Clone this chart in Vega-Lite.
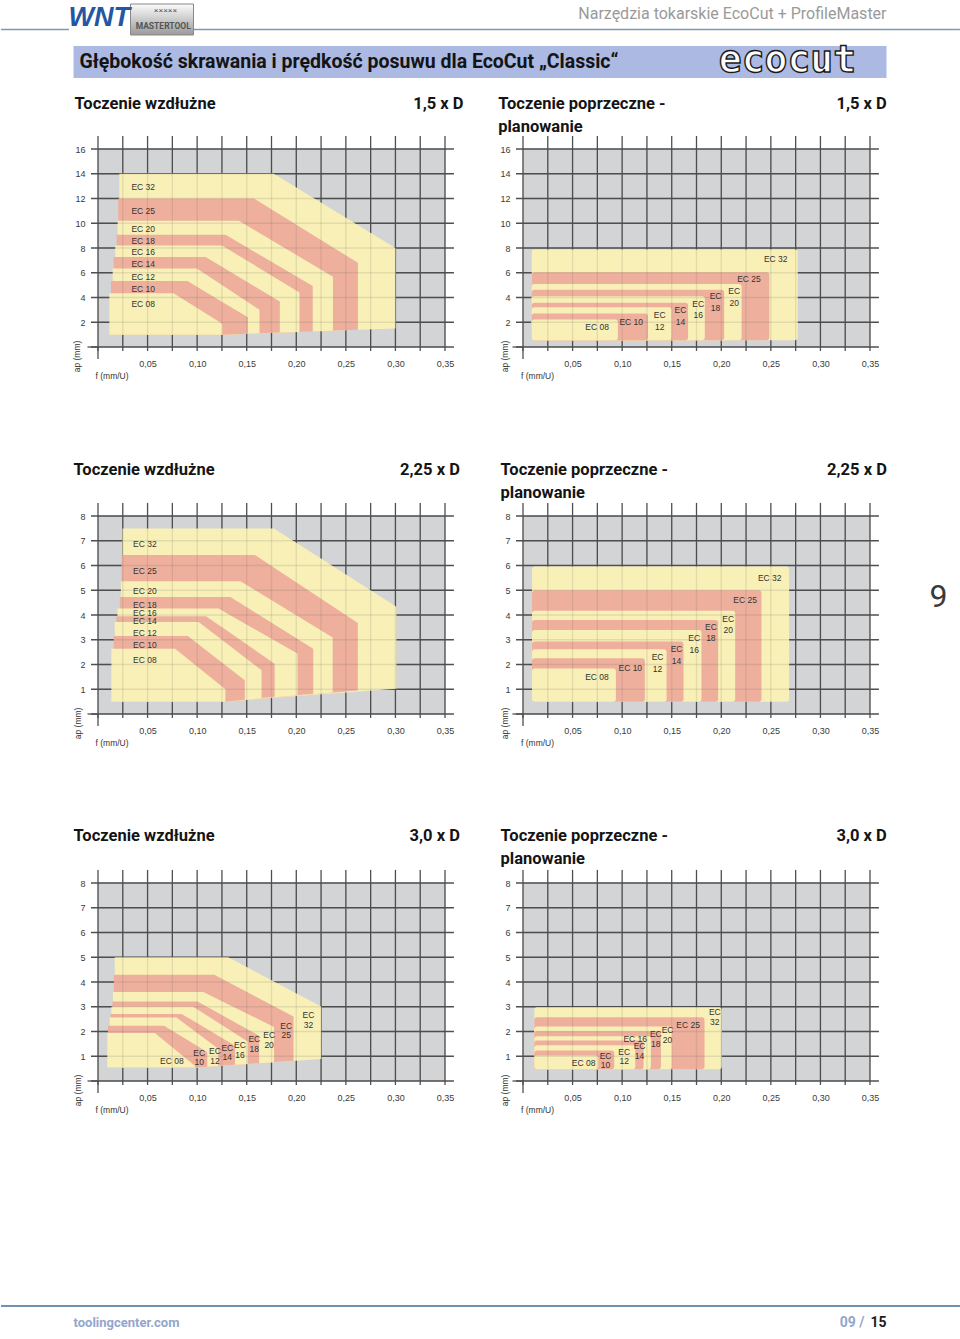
{
"$schema": "https://vega.github.io/schema/vega-lite/v6.json",
"padding": 0,
"background": "#ffffff",
"autosize": {"type": "pad"},
"config": {
 "font": "Liberation Sans",
 "view": {"stroke": null},
 "axisX": {"tickCount": 7, "labelExpr": "datum.value == 0 ? '' : replace(format(datum.value, '.2f'), '.', ',')", "ticks": false, "domain": false, "grid": false, "labelPadding": 12, "labelFontSize": 9, "labelColor": "#3a3a3a", "labelFlush": false, "labelOverlap": false, "labelBound": false},
 "axisY": {"tickCount": 8, "labelExpr": "datum.value == 0 ? '' : datum.label", "ticks": false, "domain": false, "grid": false, "labelPadding": 13, "labelFontSize": 9, "labelColor": "#3a3a3a", "labelOverlap": false, "labelFlush": false}
},
"datasets": {
 "vg": [{"f":0},{"f":0.025},{"f":0.05},{"f":0.075},{"f":0.1},{"f":0.125},{"f":0.15},{"f":0.175},{"f":0.2},{"f":0.225},{"f":0.25},{"f":0.275},{"f":0.3},{"f":0.325},{"f":0.35}],
 "hg16": [{"a":0},{"a":2},{"a":4},{"a":6},{"a":8},{"a":10},{"a":12},{"a":14},{"a":16}],
 "hg8": [{"a":0},{"a":1},{"a":2},{"a":3},{"a":4},{"a":5},{"a":6},{"a":7},{"a":8}],
 "r1L": [
  {"g":"a32","c":"Y","f":0.0215,"top":14,"bot":1.0},{"g":"a32","c":"Y","f":0.125,"top":14,"bot":1.0},{"g":"a32","c":"Y","f":0.1773,"top":14,"bot":1.15},{"g":"a32","c":"Y","f":0.30,"top":8.0,"bot":1.5},
  {"g":"b25","c":"P","f":0.0204,"top":12.0,"bot":1.0},{"g":"b25","c":"P","f":0.125,"top":12.0,"bot":1.0},{"g":"b25","c":"P","f":0.1572,"top":12.0,"bot":1.09},{"g":"b25","c":"P","f":0.2622,"top":6.8,"bot":1.39},
  {"g":"c20","c":"Y","f":0.0198,"top":10.2,"bot":1.0},{"g":"c20","c":"Y","f":0.125,"top":10.2,"bot":1.0},{"g":"c20","c":"Y","f":0.1421,"top":10.2,"bot":1.05},{"g":"c20","c":"Y","f":0.237,"top":5.68,"bot":1.32},
  {"g":"d18","c":"P","f":0.0188,"top":9.07,"bot":1.0},{"g":"d18","c":"P","f":0.125,"top":9.07,"bot":1.0},{"g":"d18","c":"P","f":0.1287,"top":9.07,"bot":1.01},{"g":"d18","c":"P","f":0.2166,"top":4.93,"bot":1.26},
  {"g":"e16","c":"Y","f":0.0174,"top":8.21,"bot":1.0},{"g":"e16","c":"Y","f":0.125,"top":8.21,"bot":1.0},{"g":"e16","c":"Y","f":0.2032,"top":4.4,"bot":1.22},
  {"g":"f14","c":"P","f":0.0158,"top":7.28,"bot":1.0},{"g":"f14","c":"P","f":0.1086,"top":7.28,"bot":1.0},{"g":"f14","c":"P","f":0.125,"top":6.49,"bot":1.0},{"g":"f14","c":"P","f":0.1834,"top":3.68,"bot":1.17},
  {"g":"g12","c":"Y","f":0.0148,"top":6.35,"bot":1.0},{"g":"g12","c":"Y","f":0.0996,"top":6.35,"bot":1.0},{"g":"g12","c":"Y","f":0.125,"top":5.01,"bot":1.0},{"g":"g12","c":"Y","f":0.1629,"top":3.01,"bot":1.11},
  {"g":"h10","c":"P","f":0.0131,"top":5.33,"bot":1.0},{"g":"h10","c":"P","f":0.0902,"top":5.33,"bot":1.0},{"g":"h10","c":"P","f":0.125,"top":3.66,"bot":1.0},{"g":"h10","c":"P","f":0.1512,"top":2.4,"bot":1.07},
  {"g":"i08","c":"Y","f":0.0114,"top":4.35,"bot":1.0},{"g":"i08","c":"Y","f":0.0761,"top":4.35,"bot":1.0},{"g":"i08","c":"Y","f":0.1254,"top":1.87,"bot":1.0}
 ],
 "r2L": [
  {"g":"a32","c":"Y","f":0.0247,"top":7.5,"bot":0.5},{"g":"a32","c":"Y","f":0.1285,"top":7.5,"bot":0.5},{"g":"a32","c":"Y","f":0.1775,"top":7.5,"bot":0.66},{"g":"a32","c":"Y","f":0.301,"top":4.33,"bot":1.02},
  {"g":"b25","c":"P","f":0.0237,"top":6.42,"bot":0.5},{"g":"b25","c":"P","f":0.1285,"top":6.42,"bot":0.5},{"g":"b25","c":"P","f":0.1583,"top":6.42,"bot":0.6},{"g":"b25","c":"P","f":0.2621,"top":3.68,"bot":0.95},
  {"g":"c20","c":"Y","f":0.023,"top":5.36,"bot":0.5},{"g":"c20","c":"Y","f":0.1285,"top":5.36,"bot":0.5},{"g":"c20","c":"Y","f":0.1437,"top":5.36,"bot":0.55},{"g":"c20","c":"Y","f":0.2367,"top":3.09,"bot":0.87},
  {"g":"d18","c":"P","f":0.022,"top":4.73,"bot":0.5},{"g":"d18","c":"P","f":0.1285,"top":4.73,"bot":0.5},{"g":"d18","c":"P","f":0.1336,"top":4.73,"bot":0.52},{"g":"d18","c":"P","f":0.2171,"top":2.64,"bot":0.82},
  {"g":"e16","c":"Y","f":0.0196,"top":4.26,"bot":0.5},{"g":"e16","c":"Y","f":0.1217,"top":4.26,"bot":0.5},{"g":"e16","c":"Y","f":0.1285,"top":4.10,"bot":0.5},{"g":"e16","c":"Y","f":0.2012,"top":2.44,"bot":0.76},
  {"g":"f14","c":"P","f":0.0186,"top":3.95,"bot":0.5},{"g":"f14","c":"P","f":0.1089,"top":3.95,"bot":0.5},{"g":"f14","c":"P","f":0.1285,"top":3.41,"bot":0.5},{"g":"f14","c":"P","f":0.1782,"top":2.03,"bot":0.70},
  {"g":"g12","c":"Y","f":0.0169,"top":3.72,"bot":0.5},{"g":"g12","c":"Y","f":0.1015,"top":3.72,"bot":0.5},{"g":"g12","c":"Y","f":0.1285,"top":2.89,"bot":0.5},{"g":"g12","c":"Y","f":0.165,"top":1.77,"bot":0.64},
  {"g":"h10","c":"P","f":0.0159,"top":3.15,"bot":0.5},{"g":"h10","c":"P","f":0.0906,"top":3.15,"bot":0.5},{"g":"h10","c":"P","f":0.1285,"top":1.97,"bot":0.5},{"g":"h10","c":"P","f":0.1481,"top":1.36,"bot":0.58},
  {"g":"i08","c":"Y","f":0.0135,"top":2.64,"bot":0.5},{"g":"i08","c":"Y","f":0.0778,"top":2.64,"bot":0.5},{"g":"i08","c":"Y","f":0.1285,"top":1.0,"bot":0.5}
 ],
 "r3L": [
  {"g":"a32","c":"Y","f":0.0169,"top":5.0,"bot":0.55},{"g":"a32","c":"Y","f":0.0977,"top":5.0,"bot":0.55},{"g":"a32","c":"Y","f":0.1314,"top":5.0,"bot":0.64},{"g":"a32","c":"Y","f":0.2251,"top":3.01,"bot":0.89},
  {"g":"b25","c":"P","f":0.016,"top":4.29,"bot":0.55},{"g":"b25","c":"P","f":0.0977,"top":4.29,"bot":0.55},{"g":"b25","c":"P","f":0.1173,"top":4.29,"bot":0.6},{"g":"b25","c":"P","f":0.1972,"top":2.61,"bot":0.82},
  {"g":"c20","c":"Y","f":0.015,"top":3.6,"bot":0.55},{"g":"c20","c":"Y","f":0.0977,"top":3.6,"bot":0.55},{"g":"c20","c":"Y","f":0.1062,"top":3.6,"bot":0.57},{"g":"c20","c":"Y","f":0.1776,"top":2.18,"bot":0.76},
  {"g":"d18","c":"P","f":0.0145,"top":3.21,"bot":0.55},{"g":"d18","c":"P","f":0.0977,"top":3.21,"bot":0.55},{"g":"d18","c":"P","f":0.1004,"top":3.21,"bot":0.56},{"g":"d18","c":"P","f":0.1625,"top":1.83,"bot":0.72},
  {"g":"e16","c":"Y","f":0.0135,"top":3.0,"bot":0.55},{"g":"e16","c":"Y","f":0.096,"top":3.0,"bot":0.55},{"g":"e16","c":"Y","f":0.151,"top":1.6,"bot":0.69},
  {"g":"f14","c":"P","f":0.0128,"top":2.71,"bot":0.55},{"g":"f14","c":"P","f":0.0843,"top":2.71,"bot":0.55},{"g":"f14","c":"P","f":0.0977,"top":2.39,"bot":0.55},{"g":"f14","c":"P","f":0.1382,"top":1.42,"bot":0.66},
  {"g":"g12","c":"Y","f":0.0118,"top":2.57,"bot":0.55},{"g":"g12","c":"Y","f":0.0792,"top":2.57,"bot":0.55},{"g":"g12","c":"Y","f":0.0977,"top":2.01,"bot":0.55},{"g":"g12","c":"Y","f":0.1213,"top":1.3,"bot":0.61},
  {"g":"h10","c":"P","f":0.01,"top":2.23,"bot":0.55},{"g":"h10","c":"P","f":0.0667,"top":2.23,"bot":0.55},{"g":"h10","c":"P","f":0.0977,"top":1.47,"bot":0.55},{"g":"h10","c":"P","f":0.1102,"top":1.16,"bot":0.58},
  {"g":"i08","c":"Y","f":0.0094,"top":1.94,"bot":0.55},{"g":"i08","c":"Y","f":0.0573,"top":1.94,"bot":0.55},{"g":"i08","c":"Y","f":0.0977,"top":0.62,"bot":0.55}
 ],
 "r1R": [
  {"g":"a32","c":"Y","x1":0.0088,"x2":0.2771,"y1":0.54,"y2":7.87},
  {"g":"b25","c":"P","x1":0.0088,"x2":0.2485,"y1":0.54,"y2":6.04},
  {"g":"c20","c":"Y","x1":0.0088,"x2":0.2205,"y1":0.54,"y2":5.1},
  {"g":"d18","c":"P","x1":0.0088,"x2":0.2029,"y1":0.54,"y2":4.62},
  {"g":"e16","c":"Y","x1":0.0088,"x2":0.1834,"y1":0.54,"y2":4.1},
  {"g":"f14","c":"P","x1":0.0088,"x2":0.1665,"y1":0.54,"y2":3.57},
  {"g":"g12","c":"Y","x1":0.0088,"x2":0.1497,"y1":0.54,"y2":3.22},
  {"g":"h10","c":"P","x1":0.0088,"x2":0.1261,"y1":0.54,"y2":2.71},
  {"g":"i08","c":"Y","x1":0.0088,"x2":0.0957,"y1":0.54,"y2":2.23}
 ],
 "r2R": [
  {"g":"a32","c":"Y","x1":0.0091,"x2":0.2684,"y1":0.5,"y2":5.96},
  {"g":"b25","c":"P","x1":0.0091,"x2":0.2405,"y1":0.5,"y2":5.0},
  {"g":"c20","c":"Y","x1":0.0091,"x2":0.214,"y1":0.5,"y2":4.17},
  {"g":"d18","c":"P","x1":0.0091,"x2":0.1968,"y1":0.5,"y2":3.8},
  {"g":"e16","c":"Y","x1":0.0091,"x2":0.18,"y1":0.5,"y2":3.39},
  {"g":"f14","c":"P","x1":0.0091,"x2":0.1619,"y1":0.5,"y2":2.93},
  {"g":"g12","c":"Y","x1":0.0091,"x2":0.1448,"y1":0.5,"y2":2.62},
  {"g":"h10","c":"P","x1":0.0091,"x2":0.1229,"y1":0.5,"y2":2.25},
  {"g":"i08","c":"Y","x1":0.0091,"x2":0.0937,"y1":0.5,"y2":1.84}
 ],
 "r3R": [
  {"g":"a32","c":"Y","x1":0.0114,"x2":0.2005,"y1":0.47,"y2":2.98},
  {"g":"b25","c":"P","x1":0.0114,"x2":0.1831,"y1":0.47,"y2":2.58},
  {"g":"c20","c":"Y","x1":0.0114,"x2":0.1502,"y1":0.47,"y2":2.2},
  {"g":"d18","c":"P","x1":0.0114,"x2":0.1391,"y1":0.47,"y2":2.01},
  {"g":"e16","c":"Y","x1":0.0114,"x2":0.129,"y1":0.47,"y2":1.81},
  {"g":"f14","c":"P","x1":0.0114,"x2":0.1216,"y1":0.47,"y2":1.64},
  {"g":"g12","c":"Y","x1":0.0114,"x2":0.1132,"y1":0.47,"y2":1.44},
  {"g":"h10","c":"P","x1":0.0114,"x2":0.092,"y1":0.47,"y2":1.23},
  {"g":"i08","c":"Y","x1":0.0114,"x2":0.0759,"y1":0.47,"y2":1.03}
 ],
 "l1L": [{"t":"EC 32","x":0.0456,"y":12.93},{"t":"EC 25","x":0.0456,"y":11.01},{"t":"EC 20","x":0.0456,"y":9.55},{"t":"EC 18","x":0.0456,"y":8.53},{"t":"EC 16","x":0.0456,"y":7.65},{"t":"EC 14","x":0.0456,"y":6.69},{"t":"EC 12","x":0.0456,"y":5.68},{"t":"EC 10","x":0.0456,"y":4.67},{"t":"EC 08","x":0.0456,"y":3.49}],
 "l2L": [{"t":"EC 32","x":0.0473,"y":6.85},{"t":"EC 25","x":0.0473,"y":5.78},{"t":"EC 20","x":0.0473,"y":4.97},{"t":"EC 18","x":0.0473,"y":4.42},{"t":"EC 16","x":0.0473,"y":4.08},{"t":"EC 14","x":0.0473,"y":3.75},{"t":"EC 12","x":0.0473,"y":3.27},{"t":"EC 10","x":0.0473,"y":2.78},{"t":"EC 08","x":0.0473,"y":2.17}],
 "l1R": [{"t":"EC 32","x":0.2549,"y":7.11},{"t":"EC 25","x":0.2279,"y":5.5},{"t":"EC","x":0.2131,"y":4.51},{"t":"20","x":0.2131,"y":3.57},{"t":"EC","x":0.1942,"y":4.11},{"t":"18","x":0.1942,"y":3.14},{"t":"EC","x":0.1767,"y":3.49},{"t":"16","x":0.1767,"y":2.55},{"t":"EC","x":0.1588,"y":2.95},{"t":"14","x":0.1588,"y":2.01},{"t":"EC","x":0.1379,"y":2.6},{"t":"12","x":0.1379,"y":1.61},{"t":"EC 10","x":0.1092,"y":2.01},{"t":"EC 08","x":0.0748,"y":1.61}],
 "l2R": [{"t":"EC 32","x":0.2489,"y":5.48},{"t":"EC 25","x":0.224,"y":4.6},{"t":"EC","x":0.207,"y":3.84},{"t":"20","x":0.207,"y":3.39},{"t":"EC","x":0.1895,"y":3.5},{"t":"18","x":0.1895,"y":3.06},{"t":"EC","x":0.1727,"y":3.07},{"t":"16","x":0.1727,"y":2.6},{"t":"EC","x":0.1549,"y":2.62},{"t":"14","x":0.1549,"y":2.15},{"t":"EC","x":0.1357,"y":2.29},{"t":"12","x":0.1357,"y":1.82},{"t":"EC 10","x":0.1082,"y":1.86},{"t":"EC 08","x":0.0746,"y":1.48}],
 "l3L": [{"t":"EC 08","x":0.0745,"y":0.82},{"t":"EC","x":0.1021,"y":1.13},{"t":"10","x":0.1021,"y":0.75},{"t":"EC","x":0.118,"y":1.2},{"t":"12","x":0.118,"y":0.79},{"t":"EC","x":0.1304,"y":1.33},{"t":"14","x":0.1304,"y":0.95},{"t":"EC","x":0.1432,"y":1.47},{"t":"16","x":0.1432,"y":1.06},{"t":"EC","x":0.1577,"y":1.69},{"t":"18","x":0.1577,"y":1.29},{"t":"EC","x":0.1726,"y":1.87},{"t":"20","x":0.1726,"y":1.47},{"t":"EC","x":0.1898,"y":2.24},{"t":"25","x":0.1898,"y":1.84},{"t":"EC","x":0.2123,"y":2.67},{"t":"32","x":0.2123,"y":2.27}],
 "l3R": [{"t":"EC","x":0.1935,"y":2.78},{"t":"32","x":0.1935,"y":2.4},{"t":"EC 25","x":0.1666,"y":2.28},{"t":"EC","x":0.1458,"y":2.07},{"t":"20","x":0.1458,"y":1.66},{"t":"EC","x":0.134,"y":1.88},{"t":"18","x":0.134,"y":1.5},{"t":"EC 16","x":0.1132,"y":1.7},{"t":"EC","x":0.1176,"y":1.4},{"t":"14","x":0.1176,"y":0.99},{"t":"EC","x":0.1021,"y":1.17},{"t":"12","x":0.1021,"y":0.79},{"t":"EC","x":0.0833,"y":1.03},{"t":"10","x":0.0833,"y":0.63},{"t":"EC 08","x":0.0611,"y":0.74}]
},
"vconcat": [
 {
  "width": 772, "height": 80,
  "view": {"fill": "#ffffff", "stroke": null},
  "layer": [
   {"data": {"values": [{}]}, "mark": {"type": "rule", "color": "#7b9bb3", "strokeWidth": 1.5}, "encoding": {"x": {"datum": -0.1256, "type": "quantitative", "scale": {"domain": [0, 1], "nice": false, "zero": false}, "axis": null}, "x2": {"datum": -0.0376}, "y": {"datum": 0.369, "type": "quantitative", "scale": {"domain": [0, 1], "nice": false, "zero": false, "reverse": true}, "axis": null}}},
   {"data": {"values": [{}]}, "mark": {"type": "rule", "color": "#7b9bb3", "strokeWidth": 1.5}, "encoding": {"x": {"datum": 0.1237, "type": "quantitative", "scale": {"domain": [0, 1], "nice": false, "zero": false}, "axis": null}, "x2": {"datum": 1.1165}, "y": {"datum": 0.369, "type": "quantitative", "scale": {"domain": [0, 1], "nice": false, "zero": false, "reverse": true}, "axis": null}}},
   {"data": {"values": [{}]}, "mark": {"type": "rect", "stroke": "#888888", "strokeWidth": 1, "fill": {"gradient": "linear", "x1": 0, "y1": 0, "x2": 0, "y2": 1, "stops": [{"offset": 0, "color": "#fbfbfb"}, {"offset": 1, "color": "#9a9a9a"}]}}, "encoding": {"x": {"datum": 0.0421, "type": "quantitative", "scale": {"domain": [0, 1], "nice": false, "zero": false}, "axis": null}, "x2": {"datum": 0.1237}, "y": {"datum": 0.05, "type": "quantitative", "scale": {"domain": [0, 1], "nice": false, "zero": false, "reverse": true}, "axis": null}, "y2": {"datum": 0.4375}}},
   {"data": {"values": [{}]}, "mark": {"type": "text", "text": "WNT", "align": "left", "baseline": "middle", "fontSize": 27, "fontStyle": "italic", "fontWeight": "bold", "font": "Liberation Sans", "color": "#2456a4"}, "encoding": {"x": {"datum": -0.0382, "type": "quantitative", "scale": {"domain": [0, 1], "nice": false, "zero": false}, "axis": null}, "y": {"datum": 0.22, "type": "quantitative", "scale": {"domain": [0, 1], "nice": false, "zero": false, "reverse": true}, "axis": null}}},
   {"data": {"values": [{}]}, "mark": {"type": "text", "text": "×××××", "align": "center", "baseline": "middle", "fontSize": 8, "color": "#444444"}, "encoding": {"x": {"datum": 0.0874, "type": "quantitative", "scale": {"domain": [0, 1], "nice": false, "zero": false}, "axis": null}, "y": {"datum": 0.14, "type": "quantitative", "scale": {"domain": [0, 1], "nice": false, "zero": false, "reverse": true}, "axis": null}}},
   {"data": {"values": [{}]}, "mark": {"type": "text", "text": "MASTERTOOL", "align": "center", "baseline": "middle", "fontSize": 8.5, "fontWeight": "bold", "font": "Roboto", "color": "#555555"}, "encoding": {"x": {"datum": 0.0845, "type": "quantitative", "scale": {"domain": [0, 1], "nice": false, "zero": false}, "axis": null}, "y": {"datum": 0.33, "type": "quantitative", "scale": {"domain": [0, 1], "nice": false, "zero": false, "reverse": true}, "axis": null}}},
   {"data": {"values": [{}]}, "mark": {"type": "text", "text": "Narzędzia tokarskie EcoCut + ProfileMaster", "align": "right", "baseline": "middle", "fontSize": 16, "font": "Roboto", "color": "#9a9a9a"}, "encoding": {"x": {"datum": 1.0214, "type": "quantitative", "scale": {"domain": [0, 1], "nice": false, "zero": false}, "axis": null}, "y": {"datum": 0.175, "type": "quantitative", "scale": {"domain": [0, 1], "nice": false, "zero": false, "reverse": true}, "axis": null}}},
   {"data": {"values": [{}]}, "mark": {"type": "rect", "color": "#abb9e3"}, "encoding": {"x": {"datum": -0.0317, "type": "quantitative", "scale": {"domain": [0, 1], "nice": false, "zero": false}, "axis": null}, "x2": {"datum": 1.0214}, "y": {"datum": 0.575, "type": "quantitative", "scale": {"domain": [0, 1], "nice": false, "zero": false, "reverse": true}, "axis": null}, "y2": {"datum": 0.975}}},
   {"data": {"values": [{}]}, "mark": {"type": "text", "text": "Głębokość skrawania i prędkość posuwu dla EcoCut „Classic“", "align": "left", "baseline": "middle", "fontSize": 19.5, "fontWeight": "bold", "font": "Roboto", "color": "#141414"}, "encoding": {"x": {"datum": -0.0239, "type": "quantitative", "scale": {"domain": [0, 1], "nice": false, "zero": false}, "axis": null}, "y": {"datum": 0.775, "type": "quantitative", "scale": {"domain": [0, 1], "nice": false, "zero": false, "reverse": true}, "axis": null}}},
   {"data": {"values": [{}]}, "mark": {"type": "text", "text": "ecocut", "align": "center", "baseline": "middle", "fontSize": 38, "fontWeight": "bold", "font": "DejaVu Sans Mono", "fill": "#ffffff", "stroke": "#1a1a1a", "strokeWidth": 1.4}, "encoding": {"x": {"datum": 0.893, "type": "quantitative", "scale": {"domain": [0, 1], "nice": false, "zero": false}, "axis": null}, "y": {"datum": 0.76, "type": "quantitative", "scale": {"domain": [0, 1], "nice": false, "zero": false, "reverse": true}, "axis": null}}}
  ]
 },
 {
  "concat": [
   {
    "width": 347, "height": 198,
    "view": {"fill": "#d3d4d6", "stroke": null},
    "layer": [
     {"data": {"name": "vg"}, "mark": {"type": "rule", "color": "#4f4f4f", "strokeWidth": 1.3}, "encoding": {"x": {"field": "f", "type": "quantitative", "scale": {"domain": [0, 0.35], "nice": false, "zero": false}, "title": null}, "y": {"datum": -0.32, "type": "quantitative", "scale": {"domain": [0, 16], "nice": false, "zero": false}, "title": null}, "y2": {"datum": 17.05}}},
     {"data": {"name": "hg16"}, "mark": {"type": "rule", "color": "#4f4f4f", "strokeWidth": 1.3}, "encoding": {"y": {"field": "a", "type": "quantitative", "scale": {"domain": [0, 16], "nice": false, "zero": false}, "title": null}, "x": {"datum": -0.00706, "type": "quantitative", "scale": {"domain": [0, 0.35], "nice": false, "zero": false}, "title": null}, "x2": {"datum": 0.359}}},
     {"data": {"values": [{}]}, "mark": {"type": "rule", "color": "#4f4f4f", "strokeWidth": 1.3}, "encoding": {"x": {"datum": 0, "type": "quantitative", "scale": {"domain": [0, 0.35], "nice": false, "zero": false}, "title": null}, "y": {"datum": -0.97, "type": "quantitative", "scale": {"domain": [0, 16], "nice": false, "zero": false}, "title": null}, "y2": {"datum": 0}}},
     {"data": {"values": [{}]}, "mark": {"type": "rule", "color": "#4f4f4f", "strokeWidth": 1.3}, "encoding": {"y": {"datum": 0, "type": "quantitative", "scale": {"domain": [0, 16], "nice": false, "zero": false}, "title": null}, "x": {"datum": -0.0106, "type": "quantitative", "scale": {"domain": [0, 0.35], "nice": false, "zero": false}, "title": null}, "x2": {"datum": 0}}},
     {"data": {"name": "r1L"}, "mark": {"type": "area", "interpolate": "linear", "opacity": 1}, "encoding": {"x": {"field": "f", "type": "quantitative", "scale": {"domain": [0, 0.35], "nice": false, "zero": false}, "title": null}, "y": {"field": "top", "type": "quantitative", "scale": {"domain": [0, 16], "nice": false, "zero": false}, "stack": null, "title": null}, "y2": {"field": "bot"}, "fill": {"field": "c", "type": "nominal", "scale": {"domain": ["Y", "P"], "range": ["#f8f0b7", "#eeb09d"]}, "legend": null}, "detail": {"field": "g", "type": "nominal"}}},
     {"data": {"name": "vg"}, "mark": {"type": "rule", "color": "#4f4f4f", "strokeWidth": 1.3, "opacity": 0.13}, "encoding": {"x": {"field": "f", "type": "quantitative", "scale": {"domain": [0, 0.35], "nice": false, "zero": false}, "title": null}, "y": {"datum": 0, "type": "quantitative", "scale": {"domain": [0, 16], "nice": false, "zero": false}, "title": null}, "y2": {"datum": 16}}},
     {"data": {"name": "hg16"}, "mark": {"type": "rule", "color": "#4f4f4f", "strokeWidth": 1.3, "opacity": 0.13}, "encoding": {"y": {"field": "a", "type": "quantitative", "scale": {"domain": [0, 16], "nice": false, "zero": false}, "title": null}, "x": {"datum": 0, "type": "quantitative", "scale": {"domain": [0, 0.35], "nice": false, "zero": false}, "title": null}, "x2": {"datum": 0.35}}},
     {"data": {"name": "l1L"}, "mark": {"type": "text", "fontSize": 8.5, "color": "#333333", "align": "center", "baseline": "middle"}, "encoding": {"x": {"field": "x", "type": "quantitative", "scale": {"domain": [0, 0.35], "nice": false, "zero": false}, "title": null}, "y": {"field": "y", "type": "quantitative", "scale": {"domain": [0, 16], "nice": false, "zero": false}, "title": null}, "text": {"field": "t"}}},
     {"data": {"values": [{}]}, "mark": {"type": "text", "text": "Toczenie wzdłużne", "align": "left", "baseline": "middle", "fontSize": 16.5, "fontWeight": "bold", "font": "Roboto", "color": "#141414"}, "encoding": {"x": {"datum": -0.0237, "type": "quantitative", "scale": {"domain": [0, 0.35], "nice": false, "zero": false}, "title": null}, "y": {"datum": 19.64, "type": "quantitative", "scale": {"domain": [0, 16], "nice": false, "zero": false}, "title": null}}},
     {"data": {"values": [{}]}, "mark": {"type": "text", "text": "1,5 x D", "align": "right", "baseline": "middle", "fontSize": 16.5, "fontWeight": "bold", "font": "Roboto", "color": "#141414"}, "encoding": {"x": {"datum": 0.3687, "type": "quantitative", "scale": {"domain": [0, 0.35], "nice": false, "zero": false}, "title": null}, "y": {"datum": 19.64, "type": "quantitative", "scale": {"domain": [0, 16], "nice": false, "zero": false}, "title": null}}},
     {"data": {"values": [{}]}, "mark": {"type": "text", "text": "ap (mm)", "angle": 270, "align": "center", "baseline": "middle", "fontSize": 8.5, "color": "#333333"}, "encoding": {"x": {"datum": -0.0207, "type": "quantitative", "scale": {"domain": [0, 0.35], "nice": false, "zero": false}, "title": null}, "y": {"datum": -0.77, "type": "quantitative", "scale": {"domain": [0, 16], "nice": false, "zero": false}, "title": null}}},
     {"data": {"values": [{}]}, "mark": {"type": "text", "text": "f (mm/U)", "align": "left", "baseline": "middle", "fontSize": 8.5, "color": "#333333"}, "encoding": {"x": {"datum": -0.0025, "type": "quantitative", "scale": {"domain": [0, 0.35], "nice": false, "zero": false}, "title": null}, "y": {"datum": -2.38, "type": "quantitative", "scale": {"domain": [0, 16], "nice": false, "zero": false}, "title": null}}}
    ]
   },
   {
    "width": 347, "height": 198,
    "view": {"fill": "#d3d4d6", "stroke": null},
    "layer": [
     {"data": {"name": "vg"}, "mark": {"type": "rule", "color": "#4f4f4f", "strokeWidth": 1.3}, "encoding": {"x": {"field": "f", "type": "quantitative", "scale": {"domain": [0, 0.35], "nice": false, "zero": false}, "title": null}, "y": {"datum": -0.32, "type": "quantitative", "scale": {"domain": [0, 16], "nice": false, "zero": false}, "title": null}, "y2": {"datum": 17.05}}},
     {"data": {"name": "hg16"}, "mark": {"type": "rule", "color": "#4f4f4f", "strokeWidth": 1.3}, "encoding": {"y": {"field": "a", "type": "quantitative", "scale": {"domain": [0, 16], "nice": false, "zero": false}, "title": null}, "x": {"datum": -0.00706, "type": "quantitative", "scale": {"domain": [0, 0.35], "nice": false, "zero": false}, "title": null}, "x2": {"datum": 0.359}}},
     {"data": {"values": [{}]}, "mark": {"type": "rule", "color": "#4f4f4f", "strokeWidth": 1.3}, "encoding": {"x": {"datum": 0, "type": "quantitative", "scale": {"domain": [0, 0.35], "nice": false, "zero": false}, "title": null}, "y": {"datum": -0.97, "type": "quantitative", "scale": {"domain": [0, 16], "nice": false, "zero": false}, "title": null}, "y2": {"datum": 0}}},
     {"data": {"values": [{}]}, "mark": {"type": "rule", "color": "#4f4f4f", "strokeWidth": 1.3}, "encoding": {"y": {"datum": 0, "type": "quantitative", "scale": {"domain": [0, 16], "nice": false, "zero": false}, "title": null}, "x": {"datum": -0.0106, "type": "quantitative", "scale": {"domain": [0, 0.35], "nice": false, "zero": false}, "title": null}, "x2": {"datum": 0}}},
     {"data": {"name": "r1R"}, "mark": {"type": "rect", "cornerRadius": 2.5, "opacity": 1}, "encoding": {"x": {"field": "x1", "type": "quantitative", "scale": {"domain": [0, 0.35], "nice": false, "zero": false}, "title": null}, "x2": {"field": "x2"}, "y": {"field": "y2", "type": "quantitative", "scale": {"domain": [0, 16], "nice": false, "zero": false}, "title": null}, "y2": {"field": "y1"}, "fill": {"field": "c", "type": "nominal", "scale": {"domain": ["Y", "P"], "range": ["#f8f0b7", "#eeb09d"]}, "legend": null}}},
     {"data": {"name": "vg"}, "mark": {"type": "rule", "color": "#4f4f4f", "strokeWidth": 1.3, "opacity": 0.13}, "encoding": {"x": {"field": "f", "type": "quantitative", "scale": {"domain": [0, 0.35], "nice": false, "zero": false}, "title": null}, "y": {"datum": 0, "type": "quantitative", "scale": {"domain": [0, 16], "nice": false, "zero": false}, "title": null}, "y2": {"datum": 16}}},
     {"data": {"name": "hg16"}, "mark": {"type": "rule", "color": "#4f4f4f", "strokeWidth": 1.3, "opacity": 0.13}, "encoding": {"y": {"field": "a", "type": "quantitative", "scale": {"domain": [0, 16], "nice": false, "zero": false}, "title": null}, "x": {"datum": 0, "type": "quantitative", "scale": {"domain": [0, 0.35], "nice": false, "zero": false}, "title": null}, "x2": {"datum": 0.35}}},
     {"data": {"name": "l1R"}, "mark": {"type": "text", "fontSize": 8.5, "color": "#333333", "align": "center", "baseline": "middle"}, "encoding": {"x": {"field": "x", "type": "quantitative", "scale": {"domain": [0, 0.35], "nice": false, "zero": false}, "title": null}, "y": {"field": "y", "type": "quantitative", "scale": {"domain": [0, 16], "nice": false, "zero": false}, "title": null}, "text": {"field": "t"}}},
     {"data": {"values": [{}]}, "mark": {"type": "text", "text": "Toczenie poprzeczne -", "align": "left", "baseline": "middle", "fontSize": 16.5, "fontWeight": "bold", "font": "Roboto", "color": "#141414"}, "encoding": {"x": {"datum": -0.025, "type": "quantitative", "scale": {"domain": [0, 0.35], "nice": false, "zero": false}, "title": null}, "y": {"datum": 19.64, "type": "quantitative", "scale": {"domain": [0, 16], "nice": false, "zero": false}, "title": null}}},
     {"data": {"values": [{}]}, "mark": {"type": "text", "text": "planowanie", "align": "left", "baseline": "middle", "fontSize": 16.5, "fontWeight": "bold", "font": "Roboto", "color": "#141414"}, "encoding": {"x": {"datum": -0.025, "type": "quantitative", "scale": {"domain": [0, 0.35], "nice": false, "zero": false}, "title": null}, "y": {"datum": 17.78, "type": "quantitative", "scale": {"domain": [0, 16], "nice": false, "zero": false}, "title": null}}},
     {"data": {"values": [{}]}, "mark": {"type": "text", "text": "1,5 x D", "align": "right", "baseline": "middle", "fontSize": 16.5, "fontWeight": "bold", "font": "Roboto", "color": "#141414"}, "encoding": {"x": {"datum": 0.367, "type": "quantitative", "scale": {"domain": [0, 0.35], "nice": false, "zero": false}, "title": null}, "y": {"datum": 19.64, "type": "quantitative", "scale": {"domain": [0, 16], "nice": false, "zero": false}, "title": null}}},
     {"data": {"values": [{}]}, "mark": {"type": "text", "text": "ap (mm)", "angle": 270, "align": "center", "baseline": "middle", "fontSize": 8.5, "color": "#333333"}, "encoding": {"x": {"datum": -0.018, "type": "quantitative", "scale": {"domain": [0, 0.35], "nice": false, "zero": false}, "title": null}, "y": {"datum": -0.77, "type": "quantitative", "scale": {"domain": [0, 16], "nice": false, "zero": false}, "title": null}}},
     {"data": {"values": [{}]}, "mark": {"type": "text", "text": "f (mm/U)", "align": "left", "baseline": "middle", "fontSize": 8.5, "color": "#333333"}, "encoding": {"x": {"datum": -0.002, "type": "quantitative", "scale": {"domain": [0, 0.35], "nice": false, "zero": false}, "title": null}, "y": {"datum": -2.38, "type": "quantitative", "scale": {"domain": [0, 16], "nice": false, "zero": false}, "title": null}}}
    ]
   },
   {
    "width": 347, "height": 198,
    "view": {"fill": "#d3d4d6", "stroke": null},
    "layer": [
     {"data": {"name": "vg"}, "mark": {"type": "rule", "color": "#4f4f4f", "strokeWidth": 1.3}, "encoding": {"x": {"field": "f", "type": "quantitative", "scale": {"domain": [0, 0.35], "nice": false, "zero": false}, "title": null}, "y": {"datum": -0.16, "type": "quantitative", "scale": {"domain": [0, 8], "nice": false, "zero": false}, "title": null}, "y2": {"datum": 8.53}}},
     {"data": {"name": "hg8"}, "mark": {"type": "rule", "color": "#4f4f4f", "strokeWidth": 1.3}, "encoding": {"y": {"field": "a", "type": "quantitative", "scale": {"domain": [0, 8], "nice": false, "zero": false}, "title": null}, "x": {"datum": -0.00706, "type": "quantitative", "scale": {"domain": [0, 0.35], "nice": false, "zero": false}, "title": null}, "x2": {"datum": 0.359}}},
     {"data": {"values": [{}]}, "mark": {"type": "rule", "color": "#4f4f4f", "strokeWidth": 1.3}, "encoding": {"x": {"datum": 0, "type": "quantitative", "scale": {"domain": [0, 0.35], "nice": false, "zero": false}, "title": null}, "y": {"datum": -0.485, "type": "quantitative", "scale": {"domain": [0, 8], "nice": false, "zero": false}, "title": null}, "y2": {"datum": 0}}},
     {"data": {"values": [{}]}, "mark": {"type": "rule", "color": "#4f4f4f", "strokeWidth": 1.3}, "encoding": {"y": {"datum": 0, "type": "quantitative", "scale": {"domain": [0, 8], "nice": false, "zero": false}, "title": null}, "x": {"datum": -0.0106, "type": "quantitative", "scale": {"domain": [0, 0.35], "nice": false, "zero": false}, "title": null}, "x2": {"datum": 0}}},
     {"data": {"name": "r2L"}, "mark": {"type": "area", "interpolate": "linear", "opacity": 1}, "encoding": {"x": {"field": "f", "type": "quantitative", "scale": {"domain": [0, 0.35], "nice": false, "zero": false}, "title": null}, "y": {"field": "top", "type": "quantitative", "scale": {"domain": [0, 8], "nice": false, "zero": false}, "stack": null, "title": null}, "y2": {"field": "bot"}, "fill": {"field": "c", "type": "nominal", "scale": {"domain": ["Y", "P"], "range": ["#f8f0b7", "#eeb09d"]}, "legend": null}, "detail": {"field": "g", "type": "nominal"}}},
     {"data": {"name": "vg"}, "mark": {"type": "rule", "color": "#4f4f4f", "strokeWidth": 1.3, "opacity": 0.13}, "encoding": {"x": {"field": "f", "type": "quantitative", "scale": {"domain": [0, 0.35], "nice": false, "zero": false}, "title": null}, "y": {"datum": 0, "type": "quantitative", "scale": {"domain": [0, 8], "nice": false, "zero": false}, "title": null}, "y2": {"datum": 8}}},
     {"data": {"name": "hg8"}, "mark": {"type": "rule", "color": "#4f4f4f", "strokeWidth": 1.3, "opacity": 0.13}, "encoding": {"y": {"field": "a", "type": "quantitative", "scale": {"domain": [0, 8], "nice": false, "zero": false}, "title": null}, "x": {"datum": 0, "type": "quantitative", "scale": {"domain": [0, 0.35], "nice": false, "zero": false}, "title": null}, "x2": {"datum": 0.35}}},
     {"data": {"name": "l2L"}, "mark": {"type": "text", "fontSize": 8.5, "color": "#333333", "align": "center", "baseline": "middle"}, "encoding": {"x": {"field": "x", "type": "quantitative", "scale": {"domain": [0, 0.35], "nice": false, "zero": false}, "title": null}, "y": {"field": "y", "type": "quantitative", "scale": {"domain": [0, 8], "nice": false, "zero": false}, "title": null}, "text": {"field": "t"}}},
     {"data": {"values": [{}]}, "mark": {"type": "text", "text": "Toczenie wzdłużne", "align": "left", "baseline": "middle", "fontSize": 16.5, "fontWeight": "bold", "font": "Roboto", "color": "#141414"}, "encoding": {"x": {"datum": -0.0247, "type": "quantitative", "scale": {"domain": [0, 0.35], "nice": false, "zero": false}, "title": null}, "y": {"datum": 9.84, "type": "quantitative", "scale": {"domain": [0, 8], "nice": false, "zero": false}, "title": null}}},
     {"data": {"values": [{}]}, "mark": {"type": "text", "text": "2,25 x D", "align": "right", "baseline": "middle", "fontSize": 16.5, "fontWeight": "bold", "font": "Roboto", "color": "#141414"}, "encoding": {"x": {"datum": 0.365, "type": "quantitative", "scale": {"domain": [0, 0.35], "nice": false, "zero": false}, "title": null}, "y": {"datum": 9.84, "type": "quantitative", "scale": {"domain": [0, 8], "nice": false, "zero": false}, "title": null}}},
     {"data": {"values": [{}]}, "mark": {"type": "text", "text": "ap (mm)", "angle": 270, "align": "center", "baseline": "middle", "fontSize": 8.5, "color": "#333333"}, "encoding": {"x": {"datum": -0.0197, "type": "quantitative", "scale": {"domain": [0, 0.35], "nice": false, "zero": false}, "title": null}, "y": {"datum": -0.38, "type": "quantitative", "scale": {"domain": [0, 8], "nice": false, "zero": false}, "title": null}}},
     {"data": {"values": [{}]}, "mark": {"type": "text", "text": "f (mm/U)", "align": "left", "baseline": "middle", "fontSize": 8.5, "color": "#333333"}, "encoding": {"x": {"datum": -0.0025, "type": "quantitative", "scale": {"domain": [0, 0.35], "nice": false, "zero": false}, "title": null}, "y": {"datum": -1.19, "type": "quantitative", "scale": {"domain": [0, 8], "nice": false, "zero": false}, "title": null}}}
    ]
   },
   {
    "width": 347, "height": 198,
    "view": {"fill": "#d3d4d6", "stroke": null},
    "layer": [
     {"data": {"name": "vg"}, "mark": {"type": "rule", "color": "#4f4f4f", "strokeWidth": 1.3}, "encoding": {"x": {"field": "f", "type": "quantitative", "scale": {"domain": [0, 0.35], "nice": false, "zero": false}, "title": null}, "y": {"datum": -0.16, "type": "quantitative", "scale": {"domain": [0, 8], "nice": false, "zero": false}, "title": null}, "y2": {"datum": 8.53}}},
     {"data": {"name": "hg8"}, "mark": {"type": "rule", "color": "#4f4f4f", "strokeWidth": 1.3}, "encoding": {"y": {"field": "a", "type": "quantitative", "scale": {"domain": [0, 8], "nice": false, "zero": false}, "title": null}, "x": {"datum": -0.00706, "type": "quantitative", "scale": {"domain": [0, 0.35], "nice": false, "zero": false}, "title": null}, "x2": {"datum": 0.359}}},
     {"data": {"values": [{}]}, "mark": {"type": "rule", "color": "#4f4f4f", "strokeWidth": 1.3}, "encoding": {"x": {"datum": 0, "type": "quantitative", "scale": {"domain": [0, 0.35], "nice": false, "zero": false}, "title": null}, "y": {"datum": -0.485, "type": "quantitative", "scale": {"domain": [0, 8], "nice": false, "zero": false}, "title": null}, "y2": {"datum": 0}}},
     {"data": {"values": [{}]}, "mark": {"type": "rule", "color": "#4f4f4f", "strokeWidth": 1.3}, "encoding": {"y": {"datum": 0, "type": "quantitative", "scale": {"domain": [0, 8], "nice": false, "zero": false}, "title": null}, "x": {"datum": -0.0106, "type": "quantitative", "scale": {"domain": [0, 0.35], "nice": false, "zero": false}, "title": null}, "x2": {"datum": 0}}},
     {"data": {"name": "r2R"}, "mark": {"type": "rect", "cornerRadius": 2.5, "opacity": 1}, "encoding": {"x": {"field": "x1", "type": "quantitative", "scale": {"domain": [0, 0.35], "nice": false, "zero": false}, "title": null}, "x2": {"field": "x2"}, "y": {"field": "y2", "type": "quantitative", "scale": {"domain": [0, 8], "nice": false, "zero": false}, "title": null}, "y2": {"field": "y1"}, "fill": {"field": "c", "type": "nominal", "scale": {"domain": ["Y", "P"], "range": ["#f8f0b7", "#eeb09d"]}, "legend": null}}},
     {"data": {"name": "vg"}, "mark": {"type": "rule", "color": "#4f4f4f", "strokeWidth": 1.3, "opacity": 0.13}, "encoding": {"x": {"field": "f", "type": "quantitative", "scale": {"domain": [0, 0.35], "nice": false, "zero": false}, "title": null}, "y": {"datum": 0, "type": "quantitative", "scale": {"domain": [0, 8], "nice": false, "zero": false}, "title": null}, "y2": {"datum": 8}}},
     {"data": {"name": "hg8"}, "mark": {"type": "rule", "color": "#4f4f4f", "strokeWidth": 1.3, "opacity": 0.13}, "encoding": {"y": {"field": "a", "type": "quantitative", "scale": {"domain": [0, 8], "nice": false, "zero": false}, "title": null}, "x": {"datum": 0, "type": "quantitative", "scale": {"domain": [0, 0.35], "nice": false, "zero": false}, "title": null}, "x2": {"datum": 0.35}}},
     {"data": {"name": "l2R"}, "mark": {"type": "text", "fontSize": 8.5, "color": "#333333", "align": "center", "baseline": "middle"}, "encoding": {"x": {"field": "x", "type": "quantitative", "scale": {"domain": [0, 0.35], "nice": false, "zero": false}, "title": null}, "y": {"field": "y", "type": "quantitative", "scale": {"domain": [0, 8], "nice": false, "zero": false}, "title": null}, "text": {"field": "t"}}},
     {"data": {"values": [{}]}, "mark": {"type": "text", "text": "Toczenie poprzeczne -", "align": "left", "baseline": "middle", "fontSize": 16.5, "fontWeight": "bold", "font": "Roboto", "color": "#141414"}, "encoding": {"x": {"datum": -0.0227, "type": "quantitative", "scale": {"domain": [0, 0.35], "nice": false, "zero": false}, "title": null}, "y": {"datum": 9.84, "type": "quantitative", "scale": {"domain": [0, 8], "nice": false, "zero": false}, "title": null}}},
     {"data": {"values": [{}]}, "mark": {"type": "text", "text": "planowanie", "align": "left", "baseline": "middle", "fontSize": 16.5, "fontWeight": "bold", "font": "Roboto", "color": "#141414"}, "encoding": {"x": {"datum": -0.0227, "type": "quantitative", "scale": {"domain": [0, 0.35], "nice": false, "zero": false}, "title": null}, "y": {"datum": 8.91, "type": "quantitative", "scale": {"domain": [0, 8], "nice": false, "zero": false}, "title": null}}},
     {"data": {"values": [{}]}, "mark": {"type": "text", "text": "2,25 x D", "align": "right", "baseline": "middle", "fontSize": 16.5, "fontWeight": "bold", "font": "Roboto", "color": "#141414"}, "encoding": {"x": {"datum": 0.367, "type": "quantitative", "scale": {"domain": [0, 0.35], "nice": false, "zero": false}, "title": null}, "y": {"datum": 9.84, "type": "quantitative", "scale": {"domain": [0, 8], "nice": false, "zero": false}, "title": null}}},
     {"data": {"values": [{}]}, "mark": {"type": "text", "text": "9", "align": "center", "baseline": "middle", "fontSize": 32, "font": "Roboto", "color": "#3a3a3a"}, "encoding": {"x": {"datum": 0.419, "type": "quantitative", "scale": {"domain": [0, 0.35], "nice": false, "zero": false}, "title": null}, "y": {"datum": 4.73, "type": "quantitative", "scale": {"domain": [0, 8], "nice": false, "zero": false}, "title": null}}},
     {"data": {"values": [{}]}, "mark": {"type": "text", "text": "ap (mm)", "angle": 270, "align": "center", "baseline": "middle", "fontSize": 8.5, "color": "#333333"}, "encoding": {"x": {"datum": -0.018, "type": "quantitative", "scale": {"domain": [0, 0.35], "nice": false, "zero": false}, "title": null}, "y": {"datum": -0.38, "type": "quantitative", "scale": {"domain": [0, 8], "nice": false, "zero": false}, "title": null}}},
     {"data": {"values": [{}]}, "mark": {"type": "text", "text": "f (mm/U)", "align": "left", "baseline": "middle", "fontSize": 8.5, "color": "#333333"}, "encoding": {"x": {"datum": -0.002, "type": "quantitative", "scale": {"domain": [0, 0.35], "nice": false, "zero": false}, "title": null}, "y": {"datum": -1.19, "type": "quantitative", "scale": {"domain": [0, 8], "nice": false, "zero": false}, "title": null}}}
    ]
   },
   {
    "width": 347, "height": 198,
    "view": {"fill": "#d3d4d6", "stroke": null},
    "layer": [
     {"data": {"name": "vg"}, "mark": {"type": "rule", "color": "#4f4f4f", "strokeWidth": 1.3}, "encoding": {"x": {"field": "f", "type": "quantitative", "scale": {"domain": [0, 0.35], "nice": false, "zero": false}, "title": null}, "y": {"datum": -0.16, "type": "quantitative", "scale": {"domain": [0, 8], "nice": false, "zero": false}, "title": null}, "y2": {"datum": 8.53}}},
     {"data": {"name": "hg8"}, "mark": {"type": "rule", "color": "#4f4f4f", "strokeWidth": 1.3}, "encoding": {"y": {"field": "a", "type": "quantitative", "scale": {"domain": [0, 8], "nice": false, "zero": false}, "title": null}, "x": {"datum": -0.00706, "type": "quantitative", "scale": {"domain": [0, 0.35], "nice": false, "zero": false}, "title": null}, "x2": {"datum": 0.359}}},
     {"data": {"values": [{}]}, "mark": {"type": "rule", "color": "#4f4f4f", "strokeWidth": 1.3}, "encoding": {"x": {"datum": 0, "type": "quantitative", "scale": {"domain": [0, 0.35], "nice": false, "zero": false}, "title": null}, "y": {"datum": -0.485, "type": "quantitative", "scale": {"domain": [0, 8], "nice": false, "zero": false}, "title": null}, "y2": {"datum": 0}}},
     {"data": {"values": [{}]}, "mark": {"type": "rule", "color": "#4f4f4f", "strokeWidth": 1.3}, "encoding": {"y": {"datum": 0, "type": "quantitative", "scale": {"domain": [0, 8], "nice": false, "zero": false}, "title": null}, "x": {"datum": -0.0106, "type": "quantitative", "scale": {"domain": [0, 0.35], "nice": false, "zero": false}, "title": null}, "x2": {"datum": 0}}},
     {"data": {"name": "r3L"}, "mark": {"type": "area", "interpolate": "linear", "opacity": 1}, "encoding": {"x": {"field": "f", "type": "quantitative", "scale": {"domain": [0, 0.35], "nice": false, "zero": false}, "title": null}, "y": {"field": "top", "type": "quantitative", "scale": {"domain": [0, 8], "nice": false, "zero": false}, "stack": null, "title": null}, "y2": {"field": "bot"}, "fill": {"field": "c", "type": "nominal", "scale": {"domain": ["Y", "P"], "range": ["#f8f0b7", "#eeb09d"]}, "legend": null}, "detail": {"field": "g", "type": "nominal"}}},
     {"data": {"name": "vg"}, "mark": {"type": "rule", "color": "#4f4f4f", "strokeWidth": 1.3, "opacity": 0.13}, "encoding": {"x": {"field": "f", "type": "quantitative", "scale": {"domain": [0, 0.35], "nice": false, "zero": false}, "title": null}, "y": {"datum": 0, "type": "quantitative", "scale": {"domain": [0, 8], "nice": false, "zero": false}, "title": null}, "y2": {"datum": 8}}},
     {"data": {"name": "hg8"}, "mark": {"type": "rule", "color": "#4f4f4f", "strokeWidth": 1.3, "opacity": 0.13}, "encoding": {"y": {"field": "a", "type": "quantitative", "scale": {"domain": [0, 8], "nice": false, "zero": false}, "title": null}, "x": {"datum": 0, "type": "quantitative", "scale": {"domain": [0, 0.35], "nice": false, "zero": false}, "title": null}, "x2": {"datum": 0.35}}},
     {"data": {"name": "l3L"}, "mark": {"type": "text", "fontSize": 8.5, "color": "#333333", "align": "center", "baseline": "middle"}, "encoding": {"x": {"field": "x", "type": "quantitative", "scale": {"domain": [0, 0.35], "nice": false, "zero": false}, "title": null}, "y": {"field": "y", "type": "quantitative", "scale": {"domain": [0, 8], "nice": false, "zero": false}, "title": null}, "text": {"field": "t"}}},
     {"data": {"values": [{}]}, "mark": {"type": "text", "text": "Toczenie wzdłużne", "align": "left", "baseline": "middle", "fontSize": 16.5, "fontWeight": "bold", "font": "Roboto", "color": "#141414"}, "encoding": {"x": {"datum": -0.0247, "type": "quantitative", "scale": {"domain": [0, 0.35], "nice": false, "zero": false}, "title": null}, "y": {"datum": 9.88, "type": "quantitative", "scale": {"domain": [0, 8], "nice": false, "zero": false}, "title": null}}},
     {"data": {"values": [{}]}, "mark": {"type": "text", "text": "3,0 x D", "align": "right", "baseline": "middle", "fontSize": 16.5, "fontWeight": "bold", "font": "Roboto", "color": "#141414"}, "encoding": {"x": {"datum": 0.365, "type": "quantitative", "scale": {"domain": [0, 0.35], "nice": false, "zero": false}, "title": null}, "y": {"datum": 9.88, "type": "quantitative", "scale": {"domain": [0, 8], "nice": false, "zero": false}, "title": null}}},
     {"data": {"values": [{}]}, "mark": {"type": "text", "text": "ap (mm)", "angle": 270, "align": "center", "baseline": "middle", "fontSize": 8.5, "color": "#333333"}, "encoding": {"x": {"datum": -0.0197, "type": "quantitative", "scale": {"domain": [0, 0.35], "nice": false, "zero": false}, "title": null}, "y": {"datum": -0.38, "type": "quantitative", "scale": {"domain": [0, 8], "nice": false, "zero": false}, "title": null}}},
     {"data": {"values": [{}]}, "mark": {"type": "text", "text": "f (mm/U)", "align": "left", "baseline": "middle", "fontSize": 8.5, "color": "#333333"}, "encoding": {"x": {"datum": -0.0025, "type": "quantitative", "scale": {"domain": [0, 0.35], "nice": false, "zero": false}, "title": null}, "y": {"datum": -1.19, "type": "quantitative", "scale": {"domain": [0, 8], "nice": false, "zero": false}, "title": null}}}
    ]
   },
   {
    "width": 347, "height": 198,
    "view": {"fill": "#d3d4d6", "stroke": null},
    "layer": [
     {"data": {"name": "vg"}, "mark": {"type": "rule", "color": "#4f4f4f", "strokeWidth": 1.3}, "encoding": {"x": {"field": "f", "type": "quantitative", "scale": {"domain": [0, 0.35], "nice": false, "zero": false}, "title": null}, "y": {"datum": -0.16, "type": "quantitative", "scale": {"domain": [0, 8], "nice": false, "zero": false}, "title": null}, "y2": {"datum": 8.53}}},
     {"data": {"name": "hg8"}, "mark": {"type": "rule", "color": "#4f4f4f", "strokeWidth": 1.3}, "encoding": {"y": {"field": "a", "type": "quantitative", "scale": {"domain": [0, 8], "nice": false, "zero": false}, "title": null}, "x": {"datum": -0.00706, "type": "quantitative", "scale": {"domain": [0, 0.35], "nice": false, "zero": false}, "title": null}, "x2": {"datum": 0.359}}},
     {"data": {"values": [{}]}, "mark": {"type": "rule", "color": "#4f4f4f", "strokeWidth": 1.3}, "encoding": {"x": {"datum": 0, "type": "quantitative", "scale": {"domain": [0, 0.35], "nice": false, "zero": false}, "title": null}, "y": {"datum": -0.485, "type": "quantitative", "scale": {"domain": [0, 8], "nice": false, "zero": false}, "title": null}, "y2": {"datum": 0}}},
     {"data": {"values": [{}]}, "mark": {"type": "rule", "color": "#4f4f4f", "strokeWidth": 1.3}, "encoding": {"y": {"datum": 0, "type": "quantitative", "scale": {"domain": [0, 8], "nice": false, "zero": false}, "title": null}, "x": {"datum": -0.0106, "type": "quantitative", "scale": {"domain": [0, 0.35], "nice": false, "zero": false}, "title": null}, "x2": {"datum": 0}}},
     {"data": {"name": "r3R"}, "mark": {"type": "rect", "cornerRadius": 2.5, "opacity": 1}, "encoding": {"x": {"field": "x1", "type": "quantitative", "scale": {"domain": [0, 0.35], "nice": false, "zero": false}, "title": null}, "x2": {"field": "x2"}, "y": {"field": "y2", "type": "quantitative", "scale": {"domain": [0, 8], "nice": false, "zero": false}, "title": null}, "y2": {"field": "y1"}, "fill": {"field": "c", "type": "nominal", "scale": {"domain": ["Y", "P"], "range": ["#f8f0b7", "#eeb09d"]}, "legend": null}}},
     {"data": {"name": "vg"}, "mark": {"type": "rule", "color": "#4f4f4f", "strokeWidth": 1.3, "opacity": 0.13}, "encoding": {"x": {"field": "f", "type": "quantitative", "scale": {"domain": [0, 0.35], "nice": false, "zero": false}, "title": null}, "y": {"datum": 0, "type": "quantitative", "scale": {"domain": [0, 8], "nice": false, "zero": false}, "title": null}, "y2": {"datum": 8}}},
     {"data": {"name": "hg8"}, "mark": {"type": "rule", "color": "#4f4f4f", "strokeWidth": 1.3, "opacity": 0.13}, "encoding": {"y": {"field": "a", "type": "quantitative", "scale": {"domain": [0, 8], "nice": false, "zero": false}, "title": null}, "x": {"datum": 0, "type": "quantitative", "scale": {"domain": [0, 0.35], "nice": false, "zero": false}, "title": null}, "x2": {"datum": 0.35}}},
     {"data": {"name": "l3R"}, "mark": {"type": "text", "fontSize": 8.5, "color": "#333333", "align": "center", "baseline": "middle"}, "encoding": {"x": {"field": "x", "type": "quantitative", "scale": {"domain": [0, 0.35], "nice": false, "zero": false}, "title": null}, "y": {"field": "y", "type": "quantitative", "scale": {"domain": [0, 8], "nice": false, "zero": false}, "title": null}, "text": {"field": "t"}}},
     {"data": {"values": [{}]}, "mark": {"type": "text", "text": "Toczenie poprzeczne -", "align": "left", "baseline": "middle", "fontSize": 16.5, "fontWeight": "bold", "font": "Roboto", "color": "#141414"}, "encoding": {"x": {"datum": -0.0227, "type": "quantitative", "scale": {"domain": [0, 0.35], "nice": false, "zero": false}, "title": null}, "y": {"datum": 9.88, "type": "quantitative", "scale": {"domain": [0, 8], "nice": false, "zero": false}, "title": null}}},
     {"data": {"values": [{}]}, "mark": {"type": "text", "text": "planowanie", "align": "left", "baseline": "middle", "fontSize": 16.5, "fontWeight": "bold", "font": "Roboto", "color": "#141414"}, "encoding": {"x": {"datum": -0.0227, "type": "quantitative", "scale": {"domain": [0, 0.35], "nice": false, "zero": false}, "title": null}, "y": {"datum": 8.95, "type": "quantitative", "scale": {"domain": [0, 8], "nice": false, "zero": false}, "title": null}}},
     {"data": {"values": [{}]}, "mark": {"type": "text", "text": "3,0 x D", "align": "right", "baseline": "middle", "fontSize": 16.5, "fontWeight": "bold", "font": "Roboto", "color": "#141414"}, "encoding": {"x": {"datum": 0.367, "type": "quantitative", "scale": {"domain": [0, 0.35], "nice": false, "zero": false}, "title": null}, "y": {"datum": 9.88, "type": "quantitative", "scale": {"domain": [0, 8], "nice": false, "zero": false}, "title": null}}},
     {"data": {"values": [{}]}, "mark": {"type": "text", "text": "ap (mm)", "angle": 270, "align": "center", "baseline": "middle", "fontSize": 8.5, "color": "#333333"}, "encoding": {"x": {"datum": -0.018, "type": "quantitative", "scale": {"domain": [0, 0.35], "nice": false, "zero": false}, "title": null}, "y": {"datum": -0.38, "type": "quantitative", "scale": {"domain": [0, 8], "nice": false, "zero": false}, "title": null}}},
     {"data": {"values": [{}]}, "mark": {"type": "text", "text": "f (mm/U)", "align": "left", "baseline": "middle", "fontSize": 8.5, "color": "#333333"}, "encoding": {"x": {"datum": -0.002, "type": "quantitative", "scale": {"domain": [0, 0.35], "nice": false, "zero": false}, "title": null}, "y": {"datum": -1.19, "type": "quantitative", "scale": {"domain": [0, 8], "nice": false, "zero": false}, "title": null}}}
    ]
   }
  ],
  "columns": 2,
  "spacing": {"row": 169, "column": 78},
  "bounds": "flush",
  "resolve": {"scale": {"x": "independent", "y": "independent", "fill": "independent"}}
 },
 {
  "width": 772, "height": 208,
  "view": {"fill": "#ffffff", "stroke": null},
  "layer": [
   {"data": {"values": [{}]}, "mark": {"type": "rule", "color": "#6f91ad", "strokeWidth": 2}, "encoding": {"x": {"datum": -0.1256, "type": "quantitative", "scale": {"domain": [0, 1], "nice": false, "zero": false}, "axis": null}, "x2": {"datum": 1.1165}, "y": {"datum": 0.846, "type": "quantitative", "scale": {"domain": [0, 1], "nice": false, "zero": false, "reverse": true}, "axis": null}}},
   {"data": {"values": [{}]}, "mark": {"type": "text", "text": "toolingcenter.com", "align": "left", "baseline": "middle", "fontSize": 13, "fontWeight": "bold", "font": "Roboto", "color": "#93a6cc"}, "encoding": {"x": {"datum": -0.0317, "type": "quantitative", "scale": {"domain": [0, 1], "nice": false, "zero": false}, "axis": null}, "y": {"datum": 0.928, "type": "quantitative", "scale": {"domain": [0, 1], "nice": false, "zero": false, "reverse": true}, "axis": null}}},
   {"data": {"values": [{}]}, "mark": {"type": "text", "text": "09 /", "align": "right", "baseline": "middle", "fontSize": 14, "fontWeight": "bold", "font": "Roboto", "color": "#93a6cc"}, "encoding": {"x": {"datum": 0.9929, "type": "quantitative", "scale": {"domain": [0, 1], "nice": false, "zero": false}, "axis": null}, "y": {"datum": 0.928, "type": "quantitative", "scale": {"domain": [0, 1], "nice": false, "zero": false, "reverse": true}, "axis": null}}},
   {"data": {"values": [{}]}, "mark": {"type": "text", "text": "15", "align": "right", "baseline": "middle", "fontSize": 14, "fontWeight": "bold", "font": "Roboto", "color": "#1d1d1d"}, "encoding": {"x": {"datum": 1.0214, "type": "quantitative", "scale": {"domain": [0, 1], "nice": false, "zero": false}, "axis": null}, "y": {"datum": 0.928, "type": "quantitative", "scale": {"domain": [0, 1], "nice": false, "zero": false, "reverse": true}, "axis": null}}}
  ]
 }
],
"spacing": 15
}
